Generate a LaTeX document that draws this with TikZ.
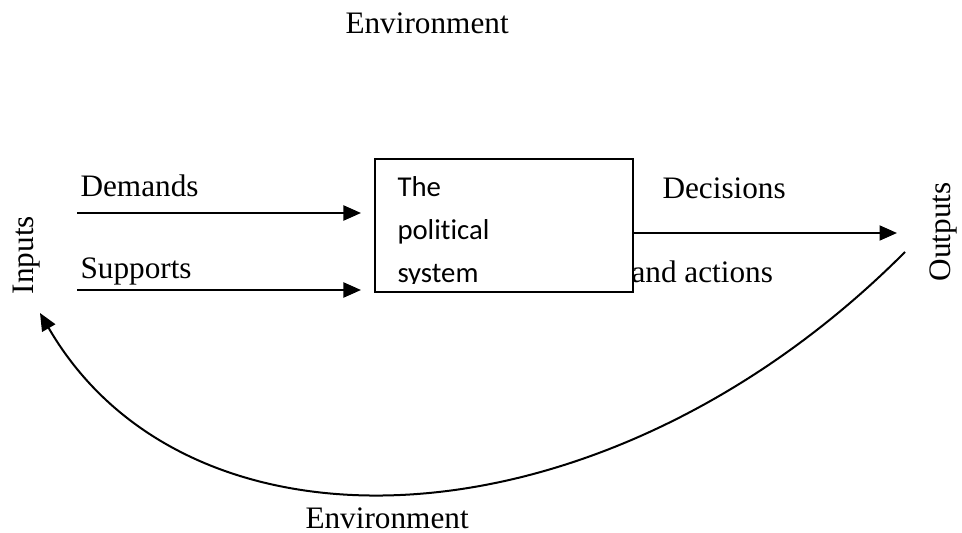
\documentclass[tikz,border=0pt]{standalone}
\usepackage{fontspec}
\setmainfont{Liberation Serif}
\newfontfamily\boxfont[Ligatures=NoCommon]{Carlito}
\usetikzlibrary{arrows.meta}

\begin{document}
\begin{tikzpicture}[x=0.4pt, y=-0.4pt,
        lbl/.style={inner sep=0pt, font=\fontsize{12.5}{15}\selectfont},
        systext/.style={inner sep=0pt, anchor=base west, font=\boxfont\fontsize{11.5}{14}\selectfont},
        sysbox/.style={rectangle, draw, fill=white, line width=0.8pt, inner sep=0pt,
          minimum width=103.2pt, minimum height=53.2pt},
        flow/.style={-{Triangle[length=7pt,width=6pt]}, line width=0.8pt}]
        \useasboundingbox (0,0) rectangle (962,533);
        % labels
        \node[lbl, anchor=base west] (envtop) at (345,33) {Environment};
        \node[lbl, anchor=base west] (dem) at (80,196) {Demands};
        \node[lbl, anchor=base west] (sup) at (80,278) {Supports};
        \node[lbl, anchor=base west] (dec) at (662,198) {Decisions};
        \node[lbl, anchor=base west] (act) at (631,282) {and actions};
        \node[lbl, rotate=90] (inp) at (27,255) {Inputs};
        \node[lbl, rotate=90] (outp) at (943,232) {Outputs};
        \node[lbl, anchor=base west] (envbot) at (305,528) {Environment};
        % the box, drawn over the second output label
        \node[sysbox] (sys) at (504,225.5) {};
        \coordinate (cliplow) at (0,283);
        \begin{scope}
          \clip (sys.north west) rectangle (sys.east |- cliplow);
          \foreach \w [count=\i] in {The,political,system}
            \node[systext] (line\i) at (397,{197+42.5*(\i-1)}) {\w};
        \end{scope}
        % arrows
        \coordinate (demstart) at (77,213);
        \coordinate (supstart) at (77,290);
        \coordinate (decend) at (897,233);
        \coordinate (fbstart) at (905,252);
        \coordinate (fbend) at (40,313);
        \draw[flow, shorten >=5.2pt] (demstart) -- (demstart -| sys.west);
        \draw[flow, shorten >=5.2pt] (supstart) -- (supstart -| sys.west);
        \draw[flow] (sys.east |- decend) -- (decend);
        \draw[flow] (fbstart) .. controls (606,552) and (190,572) .. (fbend);
      \end{tikzpicture}
\end{document}
